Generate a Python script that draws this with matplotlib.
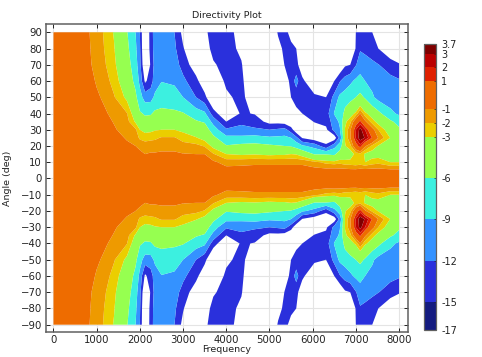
import numpy as np
import matplotlib
matplotlib.use("Agg")
import matplotlib.pyplot as plt
from matplotlib.colors import ListedColormap, BoundaryNorm
from matplotlib.cm import ScalarMappable

# levels and colours of the colour bar
levels = [-17, -15, -12, -9, -6, -3, -2, -1, 1, 2, 3, 3.7]
level_labels = ["-17", "-15", "-12", "-9", "-6", "-3", "-2", "-1", "1", "2", "3", "3.7"]
band_colors = ["#141b80", "#2a30dc", "#3492ff", "#3cf0e0", "#96ff50", "#ebce00",
               "#ee9a00", "#ee6c00", "#e02000", "#bb0000", "#7f0000"]

angles = [0, 5, 10, 15, 20, 25, 30, 35, 40, 50, 60, 70, 80, 90]
freqs = [0, 800, 1000, 1200, 1400, 1700, 1900, 2000, 2120, 2250, 2350, 2500, 2800,
         3000, 3300, 3500, 3700, 4000, 4350, 4660, 5000, 5200, 5350, 5500, 5620, 5760,
         6040, 6310, 6500, 6630, 6750, 6870, 7000, 7100, 7215, 7380, 7520, 7800, 8000]
level_db = [
    [0, 0, 0, 0, 0, 0, 0, 0, 0, 0, 0, 0, 0, 0],
    [0, 0, -.1, -.1, -.1, -.2, -.2, -.3, -.3, -.5, -.6, -.8, -.85, -.9],
    [0, 0, -.1, -.1, -.2, -.3, -.4, -.5, -.6, -.85, -1.1, -1.3, -1.4, -1.45],
    [0, -.1, -.15, -.2, -.3, -.5, -.65, -.75, -.9, -1.2, -1.6, -1.95, -2.1, -2.2],
    [0, -.1, -.2, -.3, -.4, -.6, -.9, -1.05, -1.25, -1.9, -2.4, -2.7, -2.9, -3.1],
    [0, -.2, -.3, -.5, -.8, -1.1, -1.35, -1.6, -1.95, -3.3, -4, -4.7, -5.3, -5.8],
    [0, -.2, -.4, -.7, -1, -1.4, -1.8, -3.2, -3.9, -5.4, -6.8, -7.7, -8.4, -9],
    [0, -.2, -.4, -.8, -1.2, -2.2, -3, -4.3, -5.7, -7.8, -9.8, -10.9, -11.5, -12],
    [0, -.2, -.5, -1, -1.5, -2.4, -3.4, -5.2, -6.3, -10.3, -15.6, -19, -20, -20],
    [0, -.2, -.5, -.9, -1.4, -2.3, -3.3, -4.7, -6.3, -10.1, -13.5, -14.6, -13.5, -13.3],
    [0, -.2, -.5, -.9, -1.4, -2.2, -3.1, -4.4, -5.4, -8.4, -10.4, -10.8, -10.8, -10.8],
    [0, -.2, -.5, -.8, -1.4, -1.9, -3, -4.4, -5.3, -7.4, -9.1, -10.3, -10.8, -11],
    [0, -.2, -.5, -.8, -1.4, -1.9, -3, -4.3, -5.5, -7.7, -9.5, -10.7, -11.4, -12],
    [0, -.2, -.5, -.95, -1.6, -2.4, -3.3, -4.8, -5.8, -9, -11.3, -13.1, -14.7, -16],
    [0, -.2, -.5, -1, -1.7, -2.9, -4, -5.7, -7.5, -12, -14, -17, -19, -20],
    [0, -.3, -.6, -1, -2.1, -3.5, -4.4, -6.3, -8.4, -14, -17.5, -20, -17, -16],
    [0, -.4, -.8, -1.9, -3.4, -5.3, -7.5, -10, -13.5, -19, -19, -15.5, -13.7, -13],
    [0, -.6, -1.4, -3, -5.8, -8.1, -11.5, -15, -18, -16, -14, -13.5, -13.5, -13.5],
    [0, -.6, -1.3, -3.2, -5.2, -8.3, -11, -12.7, -14.6, -13.5, -14, -14.7, -15.8, -16.5],
    [0, -.6, -1.2, -3.1, -5.1, -7.9, -11.5, -13.5, -15.2, -19, -20, -20, -20, -20],
    [0, -.6, -1.2, -3.3, -5.5, -8.5, -12, -16, -19, -20, -20, -20, -20, -20],
    [0, -.6, -1.2, -3.2, -5.8, -8.4, -11.5, -16, -20, -20, -20, -20, -16.5, -14.5],
    [0, -.6, -1.2, -3.2, -6, -8.3, -11, -16.5, -20, -20, -18, -14.8, -14, -13],
    [0, -.6, -1.2, -3, -6.2, -9, -13.5, -18, -20, -15, -13.5, -13.7, -13.5, -17],
    [0, -.6, -1.2, -3.1, -7, -11, -17.5, -20, -16, -13.5, -11, -13.6, -15, -20],
    [0, -.6, -1.2, -3.7, -8.5, -15.2, -20, -20, -15, -13.5, -14, -18, -17, -20],
    [0, -.6, -1.7, -6.2, -10, -17, -20, -14.5, -13.5, -14, -19, -20, -20, -20],
    [0, -.6, -2.3, -6.2, -14, -18, -15.7, -14, -13.5, -15, -20, -20, -20, -20],
    [0, -.5, -2.5, -6.5, -10, -17, -11, -10.5, -8.8, -11, -15, -20, -20, -20],
    [0, -.6, -2.3, -4.7, -7.5, -11, -9.2, -8.5, -8.3, -8.3, -12.2, -18, -20, -20],
    [0, -.6, -2.6, -4, -3.1, -2.9, -2.9, -3.3, -5, -7.7, -10.6, -15.5, -20, -20],
    [0, -.7, -2.6, -3.8, -2.3, -1.1, -1.2, -2.3, -3.7, -6.9, -9.6, -15, -18, -20],
    [0, -.7, -2.8, -2.6, .2, 2.1, 2, .1, -2.7, -6, -8.4, -12.2, -14.8, -15],
    [0, -.6, -2.6, -2.3, 1.6, 3.6, 3.4, 1.3, -1, -5.3, -7.9, -10.5, -12.3, -13.5],
    [0, -.6, -3, -3.2, -.8, 2.9, 2, -.75, -2.7, -6.3, -9, -11, -12.6, -13.5],
    [0, -.6, -2.5, -3.6, -2.3, .9, -.5, -2.5, -3.8, -8.5, -10, -11.5, -13.2, -15],
    [0, -.6, -2.3, -3.6, -3.1, -1.1, -2, -3.5, -5.2, -10, -11, -11.9, -15, -18],
    [0, -.7, -3, -3.9, -3.6, -3.05, -3.9, -5.5, -8.3, -10.5, -11.2, -13.3, -18, -20],
    [0, -.7, -3, -4, -4.3, -4.6, -5.5, -7, -9.5, -10.5, -11.6, -14.7, -18, -20],
]
xticks = [0, 1000, 2000, 3000, 4000, 5000, 6000, 7000, 8000]
yticks = [-90, -80, -70, -60, -50, -40, -30, -20, -10, 0, 10, 20, 30, 40, 50, 60, 70, 80, 90]

upper = np.array(level_db).T
z = np.vstack([upper[:0:-1], upper])
y = np.concatenate([-np.array(angles[:0:-1]), angles])

W, H = 482, 357
fig = plt.figure(figsize=(W / 100, H / 100), dpi=100)
ax = fig.add_axes([45.5 / W, 1 - 332 / H, 362 / W, 308 / H])

# below -15 stays white, as in the reference
ax.contourf(freqs, y, z, levels=levels[1:], colors=band_colors[1:], zorder=2, antialiased=True)

ax.set_xlim(-185, 8196)
ax.set_ylim(-94.5, 95.1)
ax.set_xticks(xticks)
ax.set_yticks(yticks)
ax.grid(True, color="#e4e4e4", lw=0.8, zorder=0)
ax.set_axisbelow(True)
ax.tick_params(direction="in", top=True, right=True, length=3, width=0.7,
               labelsize=7.3, pad=2.5, color="#222222", labelcolor="#222222")
for s in ax.spines.values():
    s.set_color("#606060")
    s.set_linewidth(1.1)

ax.set_title("Directivity Plot", fontsize=6.8, pad=4, color="#222222")
ax.set_xlabel("Frequency", fontsize=6.8, labelpad=0, color="#222222")
ax.set_ylabel("Angle (deg)", fontsize=6.8, labelpad=6, color="#222222")

cax = fig.add_axes([423.5 / W, 1 - 330 / H, 12 / W, 286 / H])
sm = ScalarMappable(norm=BoundaryNorm(levels, len(band_colors)), cmap=ListedColormap(band_colors))
cb = fig.colorbar(sm, cax=cax, spacing="proportional", ticks=levels)
cb.ax.set_yticklabels(level_labels)
cb.ax.tick_params(direction="in", length=1.5, width=0.5, labelsize=7, pad=4,
                  color="#222222", labelcolor="#222222")
cb.outline.set_edgecolor("#606060")
cb.outline.set_linewidth(0.9)

fig.savefig("out.png", dpi=100)
